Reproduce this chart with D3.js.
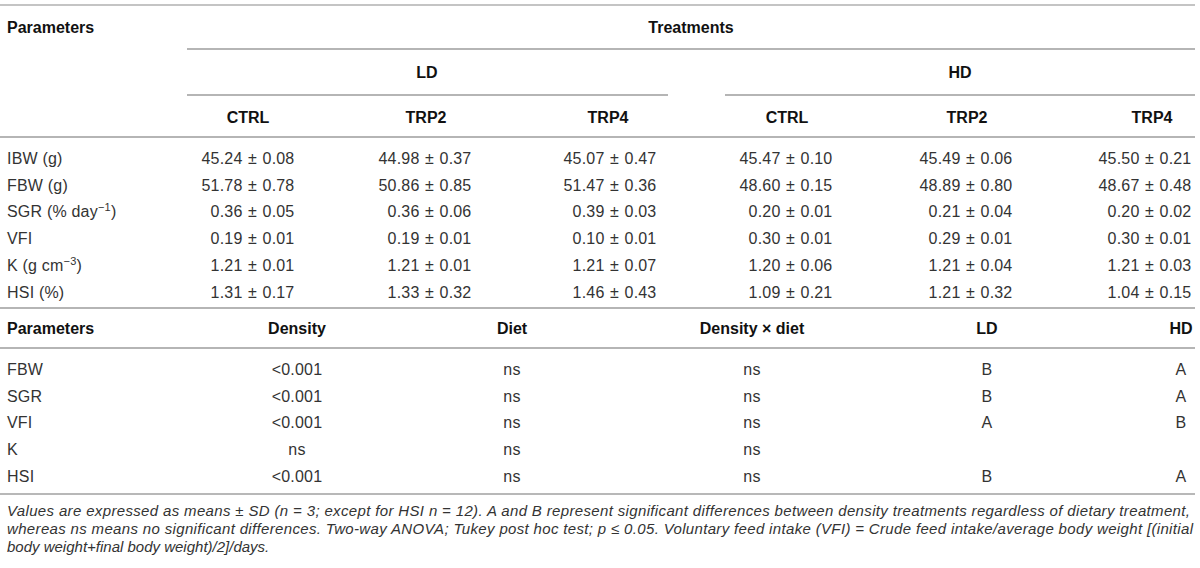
<!DOCTYPE html>
<html>
<head>
<meta charset="utf-8">
<script src="https://cdn.jsdelivr.net/npm/d3@7"></script>
<style>
body{margin:0;background:#fff}
text{font-family:"Liberation Sans",Arial,Helvetica,sans-serif;font-size:16px;fill:#333;letter-spacing:0.2px}
.bold{font-weight:bold;fill:#111;letter-spacing:0}
.note{font-style:italic;font-size:15px;fill:#333;letter-spacing:0}
</style>
</head>
<body>
<svg id="tbl"></svg>
<script>
// ---- data ----
var groups = ["LD","HD"]
var diets = ["CTRL","TRP2","TRP4"]
var columns = ["LD-CTRL","LD-TRP2","LD-TRP4","HD-CTRL","HD-TRP2","HD-TRP4"]

var params = ["IBW (g)","FBW (g)","SGR (% day","VFI","K (g cm","HSI (%)"]
var paramSup = ["","","\u22121","","\u22123",""]
var paramTail = ["","",")","",")",""]

// means per column (rows = params)
var means = [
  ["45.24","51.78","0.36","0.19","1.21","1.31"],
  ["44.98","50.86","0.36","0.19","1.21","1.33"],
  ["45.07","51.47","0.39","0.10","1.21","1.46"],
  ["45.47","48.60","0.20","0.30","1.20","1.09"],
  ["45.49","48.89","0.21","0.29","1.21","1.21"],
  ["45.50","48.67","0.20","0.30","1.21","1.04"]
]
var sds = [
  ["0.08","0.78","0.05","0.01","0.01","0.17"],
  ["0.37","0.85","0.06","0.01","0.01","0.32"],
  ["0.47","0.36","0.03","0.01","0.07","0.43"],
  ["0.10","0.15","0.01","0.01","0.06","0.21"],
  ["0.06","0.80","0.04","0.01","0.04","0.32"],
  ["0.21","0.48","0.02","0.01","0.03","0.15"]
]

var statHeads = ["Parameters","Density","Diet","Density \u00d7 diet","LD","HD"]
var statParams = ["FBW","SGR","VFI","K","HSI"]
var density = ["<0.001","<0.001","<0.001","ns","<0.001"]
var diet = ["ns","ns","ns","ns","ns"]
var densityDiet = ["ns","ns","ns","ns","ns"]
var ldLetter = ["B","B","A","","B"]
var hdLetter = ["A","A","B","","A"]

var notes = [
  "Values are expressed as means \u00b1 SD (n = 3; except for HSI n = 12). A and B represent significant differences between density treatments regardless of dietary treatment,",
  "whereas ns means no significant differences. Two-way ANOVA; Tukey post hoc test; p \u2264 0.05. Voluntary feed intake (VFI) = Crude feed intake/average body weight [(initial",
  "body weight+final body weight)/2]/days."
]

// ---- layout ----
var screen = {width:1200,height:568}
var right = 1195

var svg = d3.select("#tbl")
  .attr("width",screen.width)
  .attr("height",screen.height)

var headX = d3.scaleOrdinal().domain(columns).range([248,426,608,787,967,1152])
var cellX = d3.scaleOrdinal().domain(columns).range([248,425,610,786,966,1145])
var groupX = d3.scaleOrdinal().domain(groups).range([427,960])
var row1Y = d3.scaleLinear().domain([0,5]).range([158,158+5*26.8])
var row2Y = d3.scaleLinear().domain([0,4]).range([369,369+4*26.8])
var statX = d3.scaleOrdinal().domain(statHeads).range([7,297,512,752,987,1181])

var hline = function(x1,x2,y,w,c)
{
  svg.append("line")
    .attr("x1",x1).attr("x2",x2)
    .attr("y1",y).attr("y2",y)
    .attr("stroke",c || "#9c9c9c")
    .attr("stroke-width",w || 1.3)
}

var label = function(txt,x,y,anchor,cls)
{
  return svg.append("text")
    .text(txt)
    .attr("x",x)
    .attr("y",y)
    .attr("dy","0.36em")
    .attr("text-anchor",anchor || "middle")
    .attr("class",cls || null)
}

// rules
hline(0,right,5,1.3,"#b0b0b0")
hline(187,right,49)
hline(187,668,95)
hline(725,right,95)
hline(0,right,137)
hline(0,right,308)
hline(0,right,348)
hline(0,right,494,2,"#b8b8b8")

// header
label("Parameters",7,27,"start","bold")
label("Treatments",691,27,"middle","bold")
groups.forEach(function(g){ label(g,groupX(g),72,"middle","bold") })
columns.forEach(function(c){ label(c.split("-")[1],headX(c),117,"middle","bold") })

// parameter names with superscripts
var pnames = svg.selectAll("text.pname")
  .data(params)
  .enter()
  .append("text")
  .attr("class","pname")
  .attr("x",7)
  .attr("y",function(d,i){ return row1Y(i) })
  .attr("dy","0.36em")
pnames.append("tspan").text(function(d){ return d })
pnames.append("tspan")
  .text(function(d,i){ return paramSup[i] })
  .attr("dy",function(d,i){ return paramSup[i] ? -6 : 0 })
  .style("font-size","11px")
pnames.append("tspan")
  .text(function(d,i){ return paramTail[i] })
  .attr("dy",function(d,i){ return paramSup[i] ? 6 : 0 })

// measure helper
var measure = svg.append("text").attr("x",-999).attr("y",-999)
var widthOf = function(s)
{
  measure.text(s)
  return measure.node().getComputedTextLength()
}
var pmW = widthOf("\u00b1")
var gap = 5.5

// values aligned on the plus-minus sign
columns.forEach(function(c,ci)
{
  var mw = d3.max(means[ci],widthOf)
  var sw = d3.max(sds[ci],widthOf)
  var total = mw + gap*2 + pmW + sw
  var pmX = cellX(c) - total/2 + mw + gap + pmW/2
  var g = svg.append("g")
  var rows = d3.range(params.length)
  g.selectAll("text.m").data(rows).enter().append("text")
    .attr("class","m")
    .attr("x",pmX - pmW/2 - gap)
    .attr("y",function(i){ return row1Y(i) })
    .attr("dy","0.36em")
    .attr("text-anchor","end")
    .text(function(i){ return means[ci][i] })
  g.selectAll("text.p").data(rows).enter().append("text")
    .attr("class","p")
    .attr("x",pmX)
    .attr("y",function(i){ return row1Y(i) })
    .attr("dy","0.36em")
    .attr("text-anchor","middle")
    .text("\u00b1")
  g.selectAll("text.s").data(rows).enter().append("text")
    .attr("class","s")
    .attr("x",pmX + pmW/2 + gap)
    .attr("y",function(i){ return row1Y(i) })
    .attr("dy","0.36em")
    .attr("text-anchor","start")
    .text(function(i){ return sds[ci][i] })
})
measure.remove()

// second table
statHeads.forEach(function(h,i){ label(h,statX(h),328,i==0 ? "start" : "middle","bold") })
var statCols = [statParams,density,diet,densityDiet,ldLetter,hdLetter]
statCols.forEach(function(col,ci)
{
  svg.append("g").selectAll("text")
    .data(col)
    .enter()
    .append("text")
    .attr("x",statX(statHeads[ci]))
    .attr("y",function(d,i){ return row2Y(i) })
    .attr("dy","0.36em")
    .attr("text-anchor",ci==0 ? "start" : "middle")
    .text(function(d){ return d })
})

// footnote
svg.selectAll("text.note")
  .data(notes)
  .enter()
  .append("text")
  .attr("class","note")
  .attr("x",7)
  .attr("y",function(d,i){ return 511 + i*18 })
  .attr("dy","0.36em")
  .attr("textLength",function(d,i){ return i<2 ? (i==0 ? 1183 : 1186) : null })
  .attr("lengthAdjust","spacing")
  .text(function(d){ return d })
</script>
</body>
</html>
